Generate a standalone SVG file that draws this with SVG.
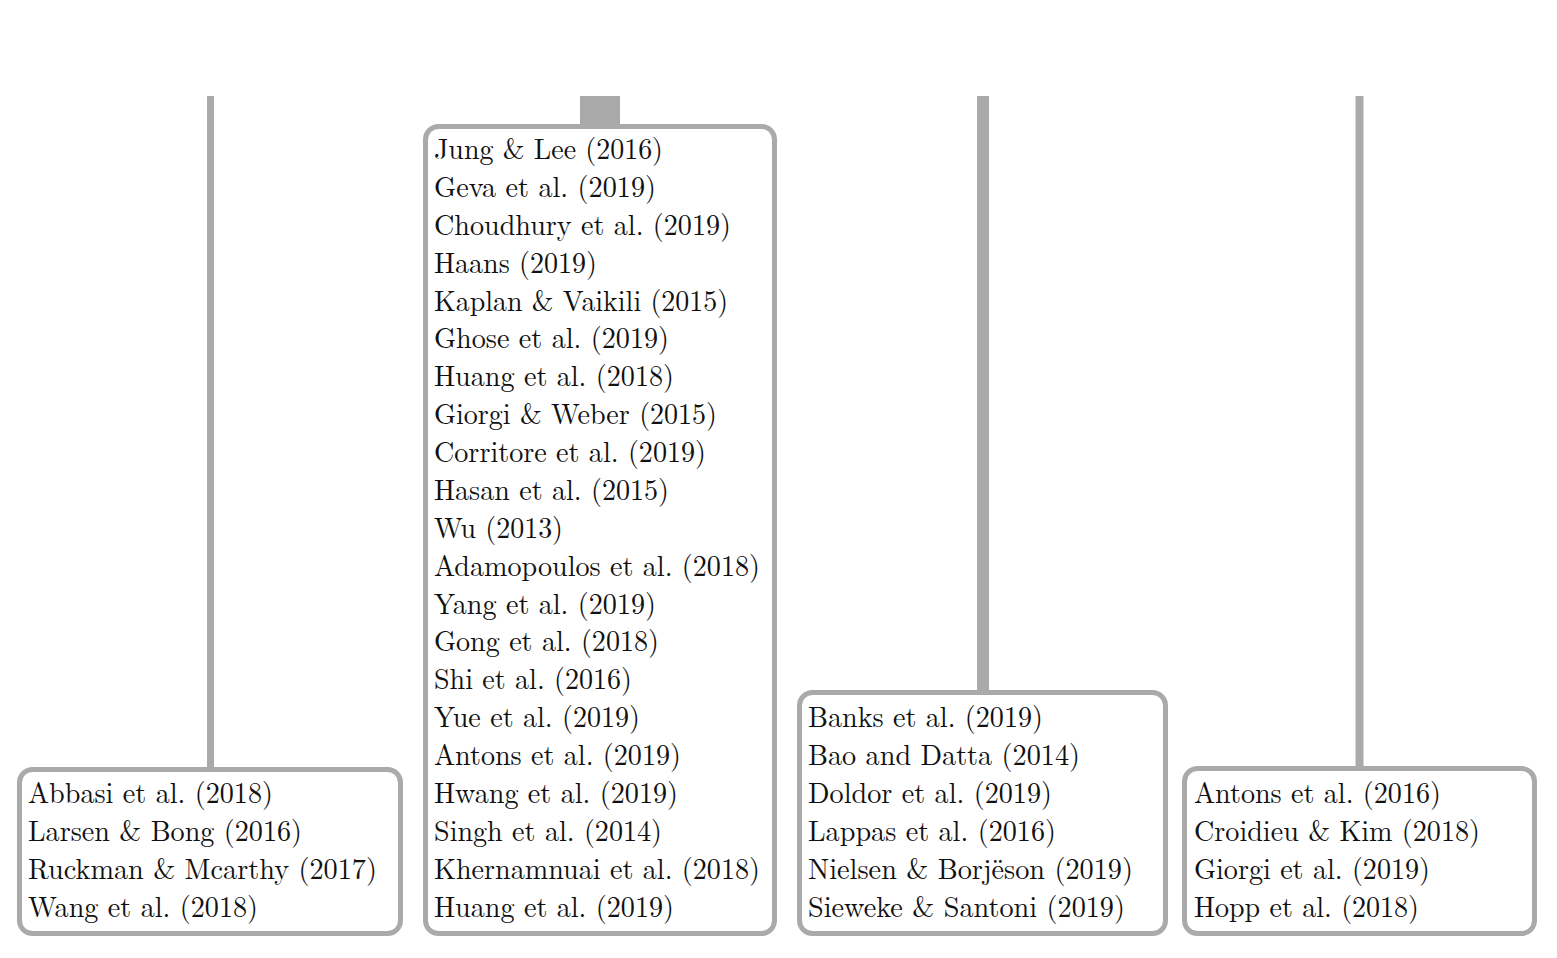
<svg xmlns="http://www.w3.org/2000/svg" width="1557" height="958" viewBox="0 0 1557 958">
  <style>
    .box { fill: #ffffff; stroke: #aaaaaa; stroke-width: 5; }
    .link { stroke: #aaaaaa; fill: none; }
    .ref { font-family: "Latin Modern Roman", "Liberation Serif", "Times New Roman", serif; font-size: 29px; fill: #111111; }
  </style>
  <rect width="1557" height="958" fill="#ffffff"/>

  <!-- stems feeding each group of references -->
  <g id="connectors">
    <line class="link" x1="210.5" y1="96" x2="210.5" y2="770" stroke-width="7"/>
    <line class="link" x1="600" y1="96" x2="600" y2="127" stroke-width="40"/>
    <line class="link" x1="983" y1="96" x2="983" y2="693" stroke-width="12"/>
    <line class="link" x1="1359.5" y1="96" x2="1359.5" y2="769" stroke-width="8"/>
  </g>

  <g id="group-a">
    <rect class="box" x="19.5" y="769.5" width="381" height="164" rx="13"/>
    <text class="ref" x="28" y="803" textLength="245" lengthAdjust="spacingAndGlyphs">Abbasi et al. (2018)</text>
    <text class="ref" x="28" y="841" textLength="274" lengthAdjust="spacingAndGlyphs">Larsen &amp; Bong (2016)</text>
    <text class="ref" x="28" y="879" textLength="349" lengthAdjust="spacingAndGlyphs">Ruckman &amp; Mcarthy (2017)</text>
    <text class="ref" x="28" y="917" textLength="230" lengthAdjust="spacingAndGlyphs">Wang et al. (2018)</text>
  </g>

  <g id="group-b">
    <rect class="box" x="425.5" y="126.5" width="349" height="807" rx="13"/>
    <text class="ref" x="434" y="159" textLength="229" lengthAdjust="spacingAndGlyphs">Jung &amp; Lee (2016)</text>
    <text class="ref" x="434" y="197" textLength="222" lengthAdjust="spacingAndGlyphs">Geva et al. (2019)</text>
    <text class="ref" x="434" y="235" textLength="297" lengthAdjust="spacingAndGlyphs">Choudhury et al. (2019)</text>
    <text class="ref" x="434" y="273" textLength="163" lengthAdjust="spacingAndGlyphs">Haans (2019)</text>
    <text class="ref" x="434" y="311" textLength="294" lengthAdjust="spacingAndGlyphs">Kaplan &amp; Vaikili (2015)</text>
    <text class="ref" x="434" y="348" textLength="235" lengthAdjust="spacingAndGlyphs">Ghose et al. (2019)</text>
    <text class="ref" x="434" y="386" textLength="240" lengthAdjust="spacingAndGlyphs">Huang et al. (2018)</text>
    <text class="ref" x="434" y="424" textLength="283" lengthAdjust="spacingAndGlyphs">Giorgi &amp; Weber (2015)</text>
    <text class="ref" x="434" y="462" textLength="272" lengthAdjust="spacingAndGlyphs">Corritore et al. (2019)</text>
    <text class="ref" x="434" y="500" textLength="235" lengthAdjust="spacingAndGlyphs">Hasan et al. (2015)</text>
    <text class="ref" x="434" y="538" textLength="129" lengthAdjust="spacingAndGlyphs">Wu (2013)</text>
    <text class="ref" x="434" y="576" textLength="326" lengthAdjust="spacingAndGlyphs">Adamopoulos et al. (2018)</text>
    <text class="ref" x="434" y="614" textLength="222" lengthAdjust="spacingAndGlyphs">Yang et al. (2019)</text>
    <text class="ref" x="434" y="651" textLength="225" lengthAdjust="spacingAndGlyphs">Gong et al. (2018)</text>
    <text class="ref" x="434" y="689" textLength="198" lengthAdjust="spacingAndGlyphs">Shi et al. (2016)</text>
    <text class="ref" x="434" y="727" textLength="206" lengthAdjust="spacingAndGlyphs">Yue et al. (2019)</text>
    <text class="ref" x="434" y="765" textLength="247" lengthAdjust="spacingAndGlyphs">Antons et al. (2019)</text>
    <text class="ref" x="434" y="803" textLength="244" lengthAdjust="spacingAndGlyphs">Hwang et al. (2019)</text>
    <text class="ref" x="434" y="841" textLength="228" lengthAdjust="spacingAndGlyphs">Singh et al. (2014)</text>
    <text class="ref" x="434" y="879" textLength="326" lengthAdjust="spacingAndGlyphs">Khernamnuai et al. (2018)</text>
    <text class="ref" x="434" y="917" textLength="240" lengthAdjust="spacingAndGlyphs">Huang et al. (2019)</text>
  </g>

  <g id="group-c">
    <rect class="box" x="799.5" y="692.5" width="366" height="241" rx="13"/>
    <text class="ref" x="808" y="727" textLength="235" lengthAdjust="spacingAndGlyphs">Banks et al. (2019)</text>
    <text class="ref" x="808" y="765" textLength="272" lengthAdjust="spacingAndGlyphs">Bao and Datta (2014)</text>
    <text class="ref" x="808" y="803" textLength="244" lengthAdjust="spacingAndGlyphs">Doldor et al. (2019)</text>
    <text class="ref" x="808" y="841" textLength="248" lengthAdjust="spacingAndGlyphs">Lappas et al. (2016)</text>
    <text class="ref" x="808" y="879" textLength="325" lengthAdjust="spacingAndGlyphs">Nielsen &amp; Borjëson (2019)</text>
    <text class="ref" x="808" y="917" textLength="317" lengthAdjust="spacingAndGlyphs">Sieweke &amp; Santoni (2019)</text>
  </g>

  <g id="group-d">
    <rect class="box" x="1184.5" y="768.5" width="350" height="165" rx="13"/>
    <text class="ref" x="1194" y="803" textLength="247" lengthAdjust="spacingAndGlyphs">Antons et al. (2016)</text>
    <text class="ref" x="1194" y="841" textLength="286" lengthAdjust="spacingAndGlyphs">Croidieu &amp; Kim (2018)</text>
    <text class="ref" x="1194" y="879" textLength="236" lengthAdjust="spacingAndGlyphs">Giorgi et al. (2019)</text>
    <text class="ref" x="1194" y="917" textLength="225" lengthAdjust="spacingAndGlyphs">Hopp et al. (2018)</text>
  </g>
</svg>
